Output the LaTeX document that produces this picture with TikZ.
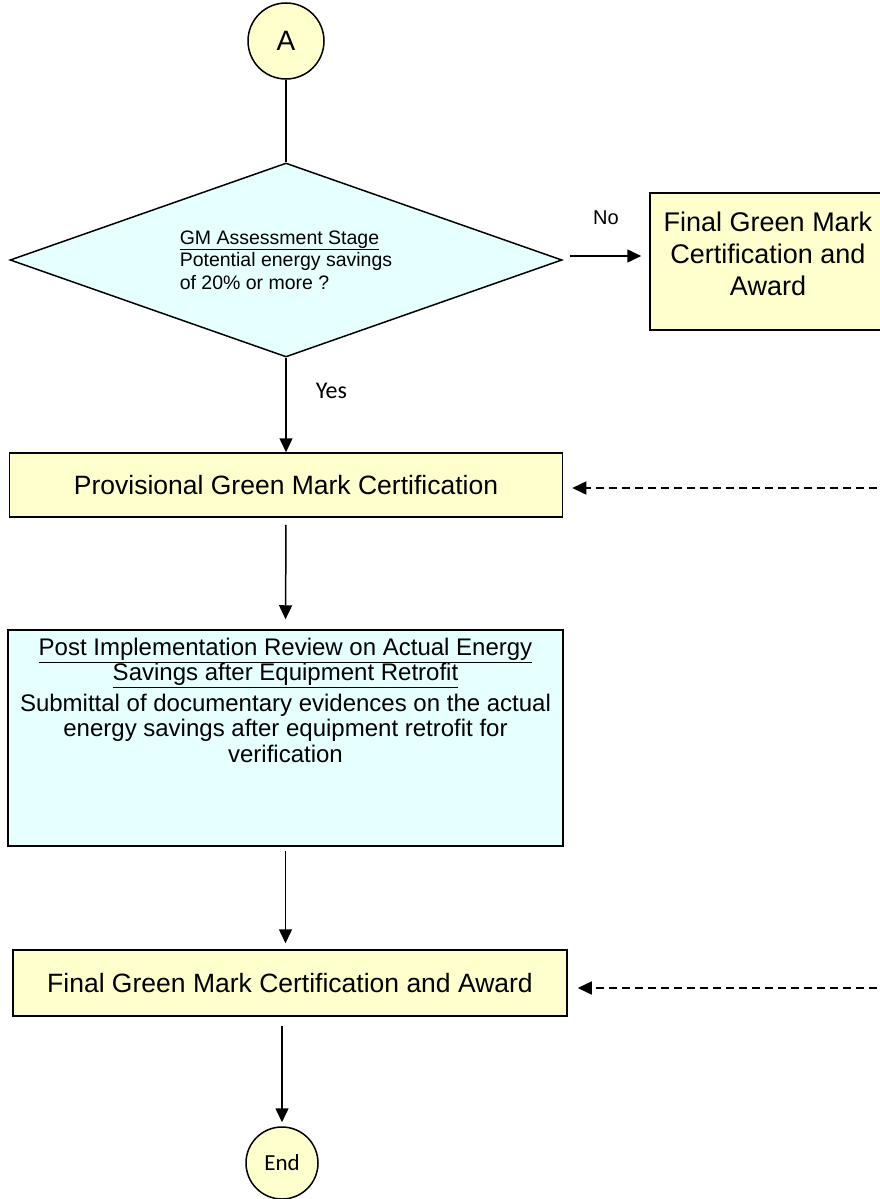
\documentclass[tikz,border=0pt]{standalone}
\usepackage{fontspec}
\setmainfont{Liberation Sans}
\newfontfamily\calibrifont{Carlito}
\usepackage{tikz}
\usetikzlibrary{shapes.geometric,arrows.meta}
\definecolor{boxyellow}{RGB}{255,255,206}
\definecolor{boxcyan}{RGB}{230,255,255}

\begin{document}
\begin{tikzpicture}[x=1pt, y=-1pt, line width=1.5pt,
            ybox/.style={draw, fill=boxyellow, rectangle, inner sep=0pt},
            cbox/.style={draw, fill=boxcyan, rectangle, inner sep=0pt},
            arr/.style={-{Triangle[length=14pt,width=13pt]}},
            dasharr/.style={arr, dash pattern=on 8pt off 5pt}]
            \useasboundingbox (0, 0) rectangle (880, 1199);
            \clip (0, 0) rectangle (880, 1199);
            \node (A) at (286, 41) [circle, draw, fill=boxyellow, minimum size=76pt, inner sep=0pt, font=\fontsize{28}{32}\selectfont] {A};
            \node (GM) at (286, 260) [diamond, draw, fill=boxcyan, aspect=2.85, minimum width=552pt, minimum height=194pt, inner sep=0pt, align=left, font=\fontsize{19.5}{22.5}\selectfont] {\underline{GM Assessment Stage}\\Potential energy savings\\of 20\% or more ?};
            \node (FinalNo) at (768, 261.5) [ybox, minimum width=236pt, minimum height=137pt, font=\fontsize{27}{32}\selectfont] {\begin{minipage}[c][137pt][t]{230pt}\centering
                \vspace*{19pt}Final Green Mark\\Certification and\\Award\end{minipage}};
            \node (Prov) at (286, 485) [ybox, minimum width=553pt, minimum height=64pt, font=\fontsize{26.5}{30}\selectfont] {Provisional Green Mark Certification};
            \node (Post) at (285.5, 738) [cbox, minimum width=555pt, minimum height=216pt, font=\fontsize{24}{25.5}\selectfont] {\begin{minipage}[c][200pt][t]{545pt}\centering
                \underline{Post Implementation Review on Actual Energy}\\
                \underline{Savings after Equipment Retrofit}\par\vspace{5pt}
                Submittal of documentary evidences on the actual\\
                energy savings after equipment retrofit for\\
                verification\end{minipage}};
            \node (Final) at (290, 983) [ybox, minimum width=554pt, minimum height=66pt, font=\fontsize{26.5}{30}\selectfont] {Final Green Mark Certification and Award};
            \node (End) at (282, 1163) [circle, draw, fill=boxyellow, minimum size=72pt, inner sep=0pt, font=\calibrifont\fontsize{23}{27}\selectfont] {End};
            % dashed inputs come in from the right edge
            \coordinate (D1) at (890, 488);
            \coordinate (D2) at (890, 988);
            \draw (A) -- (GM);
            \draw[arr, shorten <=7pt, shorten >=8pt] ([yshift=4pt]GM.east) -- ([yshift=4pt]GM.east -| FinalNo.west) node[midway, above=31pt, inner sep=0pt, font=\fontsize{20}{24}\selectfont] (No) {No};
            \draw[arr] (GM.south) -- (Prov.north) node[pos=0.35, right=29pt, inner sep=0pt, font=\calibrifont\fontsize{24}{28}\selectfont] (Yes) {Yes};
            \draw[dasharr, shorten >=9pt] (D1) -- (D1 -| Prov.east);
            \draw[arr, shorten <=7pt, shorten >=10pt] (Prov.south) -- (Post.north);
            \draw[arr, shorten <=4pt, shorten >=6pt] (Post.south) -- (Post.south |- Final.north);
            \draw[dasharr, shorten >=10pt] (D2) -- (D2 -| Final.east);
            \draw[arr, shorten <=9pt, shorten >=4pt] (End.north |- Final.south) -- (End.north);
        \end{tikzpicture}
\end{document}
